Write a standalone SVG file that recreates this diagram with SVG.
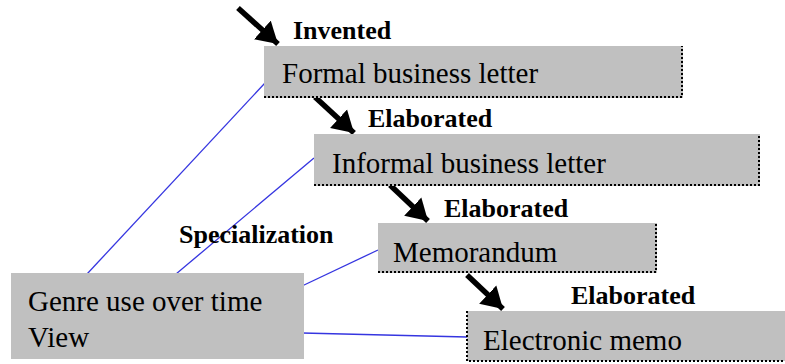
<svg xmlns="http://www.w3.org/2000/svg" width="785" height="364" viewBox="0 0 785 364">
  <defs>
    <style>
      .box { fill: #C0C0C0; }
      .edge { fill: none; stroke: #000; stroke-width: 2; stroke-dasharray: 2 2; }
      .name { font-family: "Liberation Serif", "DejaVu Serif", serif; font-size: 29px; fill: #000; }
      .tag { font-family: "Liberation Serif", "DejaVu Serif", serif; font-size: 26px; font-weight: bold; fill: #000; }
      .link { stroke: #3535E0; stroke-width: 1.3; fill: none; }
      .flow { stroke: #000; stroke-width: 5.5; fill: none; marker-end: url(#head); }
    </style>
    <marker id="head" markerUnits="userSpaceOnUse" markerWidth="24" markerHeight="28" refX="21" refY="13" orient="auto">
      <path d="M0,0.5 L21,13 L0,25.5 Z" fill="#000"/>
    </marker>
  </defs>

  <rect width="785" height="364" fill="#fff"/>

  <!-- connectors: specialization links and elaboration arrows -->
  <g id="connectors">
    <line class="link" x1="87" y1="274" x2="265" y2="83"/>
    <line class="link" x1="176" y1="274" x2="314" y2="158"/>
    <line class="link" x1="302" y1="286" x2="378" y2="250"/>
    <line class="link" x1="302" y1="333" x2="467" y2="337"/>

    <line class="flow" x1="238" y1="8" x2="278" y2="44"/>
    <line class="flow" x1="315" y1="97" x2="354" y2="133"/>
    <line class="flow" x1="390" y1="185" x2="428" y2="221"/>
    <line class="flow" x1="467" y1="275" x2="503" y2="309"/>

    <text class="tag" x="293" y="39">Invented</text>
    <text class="tag" x="368" y="127">Elaborated</text>
    <text class="tag" x="444" y="217">Elaborated</text>
    <text class="tag" x="571" y="304">Elaborated</text>
    <text class="tag" x="179" y="243">Specialization</text>
  </g>

  <g id="formal-letter">
    <rect class="box" x="264" y="46" width="419" height="52"/>
    <polyline class="edge" points="264,97 682,97 682,46"/>
    <text class="name" x="282" y="83">Formal business letter</text>
  </g>

  <g id="informal-letter">
    <rect class="box" x="314" y="134" width="446" height="52"/>
    <polyline class="edge" points="314,185 759,185 759,134"/>
    <text class="name" x="332" y="173">Informal business letter</text>
  </g>

  <g id="memorandum">
    <rect class="box" x="378" y="223" width="279" height="50"/>
    <polyline class="edge" points="378,272 656,272 656,223"/>
    <text class="name" x="393" y="262">Memorandum</text>
  </g>

  <g id="electronic-memo">
    <rect class="box" x="467" y="311" width="318" height="50"/>
    <polyline class="edge" points="467,311 467,361 785,361"/>
    <text class="name" x="483" y="350">Electronic memo</text>
  </g>

  <g id="genre-view">
    <rect class="box" x="11" y="273" width="293" height="86"/>
    <text class="name" x="28" y="311">Genre use over time</text>
    <text class="name" x="28" y="347">View</text>
  </g>
</svg>
